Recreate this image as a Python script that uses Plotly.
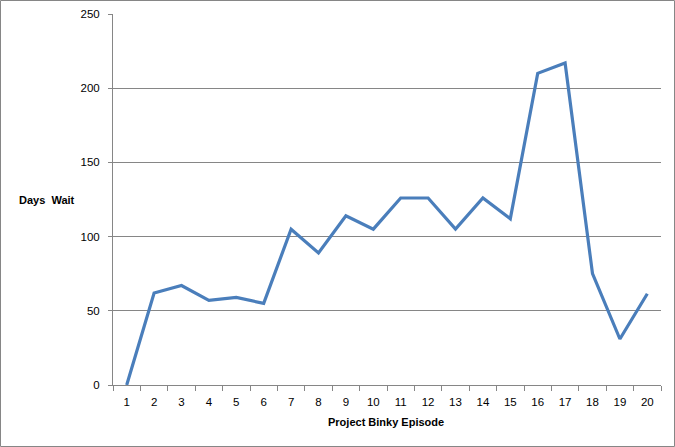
import plotly.graph_objects as go

episodes = [str(i) for i in range(1, 21)]
days_wait = [0, 62, 67, 57, 59, 55, 105, 89, 114, 105, 126, 126, 105, 126, 112, 210, 217, 75, 31, 61.5]
y_ticks = [0, 50, 100, 150, 200, 250]

W, H = 675, 447
L, R, T, B = 113, 14, 14, 62
pw = W - L - R
ph = H - T - B

fig = go.Figure()
fig.add_trace(go.Scatter(
    x=episodes, y=days_wait, mode="lines",
    line=dict(color="#4A7EBB", width=3.2),
    hoverinfo="skip", showlegend=False,
))

font = dict(family="Liberation Sans, Arial, sans-serif", size=11.5, color="#000000")

fig.update_layout(
    width=W, height=H,
    margin=dict(l=L, r=R, t=T, b=B, autoexpand=False),
    paper_bgcolor="white", plot_bgcolor="white",
    font=font,
    xaxis=dict(
        type="category", tickson="boundaries",
        ticks="outside", ticklen=5, tickcolor="#868686",
        showline=True, linecolor="#868686", linewidth=1,
        showgrid=False, zeroline=False, automargin=False,
        tickfont=dict(size=11.5), ticklabelstandoff=6,
        range=[-0.5, 19.5],
    ),
    yaxis=dict(
        range=[0, 250], tickvals=y_ticks,
        ticks="outside", ticklen=4, tickcolor="#868686",
        showline=True, linecolor="#868686", linewidth=1,
        showgrid=True, gridcolor="#868686", gridwidth=1,
        zeroline=False, automargin=False, tickfont=dict(size=11.5),
        ticklabelstandoff=6,
    ),
    annotations=[
        dict(
            text="<b>Days  Wait</b>", xref="paper", yref="paper",
            x=(17 - L) / pw, y=(H - B - 200) / ph, xanchor="left", yanchor="middle",
            showarrow=False, font=dict(size=11),
        ),
        dict(
            text="<b>Project Binky Episode</b>", xref="paper", yref="paper",
            x=(386 - L) / pw, y=-(422 - (H - B)) / ph, xanchor="center", yanchor="middle",
            showarrow=False, font=dict(size=11),
        ),
    ],
    shapes=[dict(
        type="rect", xref="paper", yref="paper",
        x0=(0.5 - L) / pw, x1=(W - 0.5 - L) / pw,
        y0=-(B - 0.5) / ph, y1=1 + (T - 0.5) / ph,
        line=dict(color="#868686", width=1), layer="below",
    )],
)

post = (
    "document.documentElement.style.margin='0';"
    "document.documentElement.style.padding='0';"
    "document.documentElement.style.overflow='hidden';"
    "document.body.style.margin='0';"
    "document.body.style.padding='0';"
    "document.body.style.overflow='hidden';"
)
fig.write_html("out.html", post_script=post, config={"displayModeBar": False})
